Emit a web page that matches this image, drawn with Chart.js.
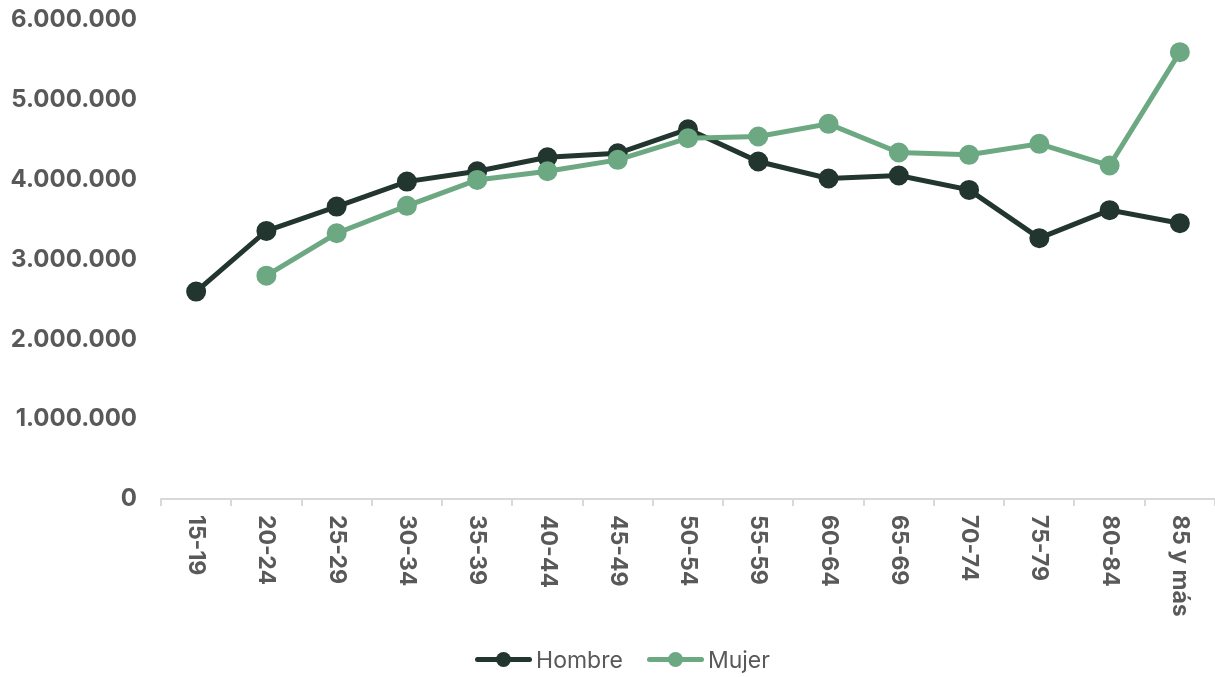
<!DOCTYPE html>
<html>
<head>
<meta charset="utf-8">
<script src="https://cdn.jsdelivr.net/npm/chart.js@4"></script>
<style>
  body { margin: 0; background: #fff; }
  .wrap { position: relative; width: 1215px; height: 677px; }
  .legend {
    position: absolute; left: 30px; right: 0; top: 645px;
    display: flex; justify-content: center; align-items: center;
    font-family: Inter, "Noto Sans", sans-serif; font-size: 23px; color: #595959;
  }
  .item { display: flex; align-items: center; margin: 0 12px; }
  .mark { position: relative; width: 57px; height: 30px; margin-right: 4px; }
  .mark .ln { position: absolute; left: 0; right: 0; top: 12px; height: 5px; border-radius: 3px; }
  .mark .pt { position: absolute; left: 21px; top: 7px; width: 15px; height: 15px; border-radius: 50%; }
</style>
</head>
<body>
<div class="wrap">
  <canvas id="chart" width="1215" height="677"></canvas>
  <div class="legend" id="legend"></div>
</div>
<script>
const categories = ['15-19', '20-24', '25-29', '30-34', '35-39', '40-44', '45-49', '50-54', '55-59', '60-64', '65-69', '70-74', '75-79', '80-84', '85 y más'];
const hombre = [2598000, 3358000, 3663000, 3976000, 4105000, 4280000, 4330000, 4632000, 4227000, 4014000, 4052000, 3872000, 3267000, 3618000, 3455000];
const mujer = [null, 2798000, 3329000, 3672000, 3997000, 4105000, 4248000, 4520000, 4541000, 4699000, 4340000, 4311000, 4449000, 4177000, 5597000];
const yTicks = [0, 1000000, 2000000, 3000000, 4000000, 5000000, 6000000];

const darkGreen = '#22362f';
const lightGreen = '#6ca882';
const textGray = '#595959';
const font = 'Inter, "Noto Sans", sans-serif';

// etiquetas del eje x giradas hacia abajo (como en Excel)
const xLabels = {
    id: 'xLabels',
    afterDraw(chart) {
        const ctx = chart.ctx;
        const x = chart.scales.x;
        ctx.save();
        ctx.fillStyle = textGray;
        ctx.font = '700 23px ' + font;
        ctx.textAlign = 'left';
        ctx.textBaseline = 'middle';
        categories.forEach((c, i) => {
            ctx.save();
            ctx.translate(x.getPixelForValue(i), x.top + 16);
            ctx.rotate(Math.PI / 2);
            ctx.fillText(c, 0, 0);
            ctx.restore();
        });
        ctx.restore();
    }
};

new Chart(document.getElementById('chart'), {
    type: 'line',
    data: {
        labels: categories,
        datasets: [{
            label: 'Hombre',
            data: hombre,
            borderColor: darkGreen,
            backgroundColor: darkGreen,
            borderWidth: 5,
            pointRadius: 7.5,
            pointHoverRadius: 7.5,
            order: 2
        }, {
            label: 'Mujer',
            data: mujer,
            borderColor: lightGreen,
            backgroundColor: lightGreen,
            borderWidth: 5,
            pointRadius: 7.5,
            pointHoverRadius: 7.5,
            order: 1
        }]
    },
    options: {
        responsive: false,
        animation: false,
        layout: { autoPadding: false, padding: { top: 20, right: 0, bottom: 0, left: 0 } },
        plugins: { legend: { display: false }, tooltip: { enabled: false } },
        scales: {
            x: {
                offset: true,
                grid: { offset: true, drawOnChartArea: false, drawTicks: true, tickLength: 7, color: '#d9d9d9', lineWidth: 2 },
                border: { display: true, color: '#d9d9d9', width: 2 },
                ticks: { display: false },
                afterFit(s) { s.height = 178; }
            },
            y: {
                min: 0,
                max: 6000000,
                grid: { display: false, drawTicks: false },
                border: { display: false },
                afterBuildTicks(s) { s.ticks = yTicks.map(v => ({ value: v })); },
                afterFit(s) { s.width = 161; s.paddingTop = 0; s.paddingBottom = 0; },
                ticks: {
                    padding: 24,
                    color: textGray,
                    font: { family: font, size: 24, weight: '700' },
                    callback: v => String(v).replace(/\B(?=(\d{3})+(?!\d))/g, '.')
                }
            }
        }
    },
    plugins: [xLabels]
});

// leyenda con línea y marcador
const legend = document.getElementById('legend');
[['Hombre', darkGreen], ['Mujer', lightGreen]].forEach(([name, col]) => {
    const item = document.createElement('div');
    item.className = 'item';
    item.innerHTML = '<span class="mark"><span class="ln" style="background:' + col + '"></span>' +
        '<span class="pt" style="background:' + col + '"></span></span><span>' + name + '</span>';
    legend.appendChild(item);
});
</script>
</body>
</html>
